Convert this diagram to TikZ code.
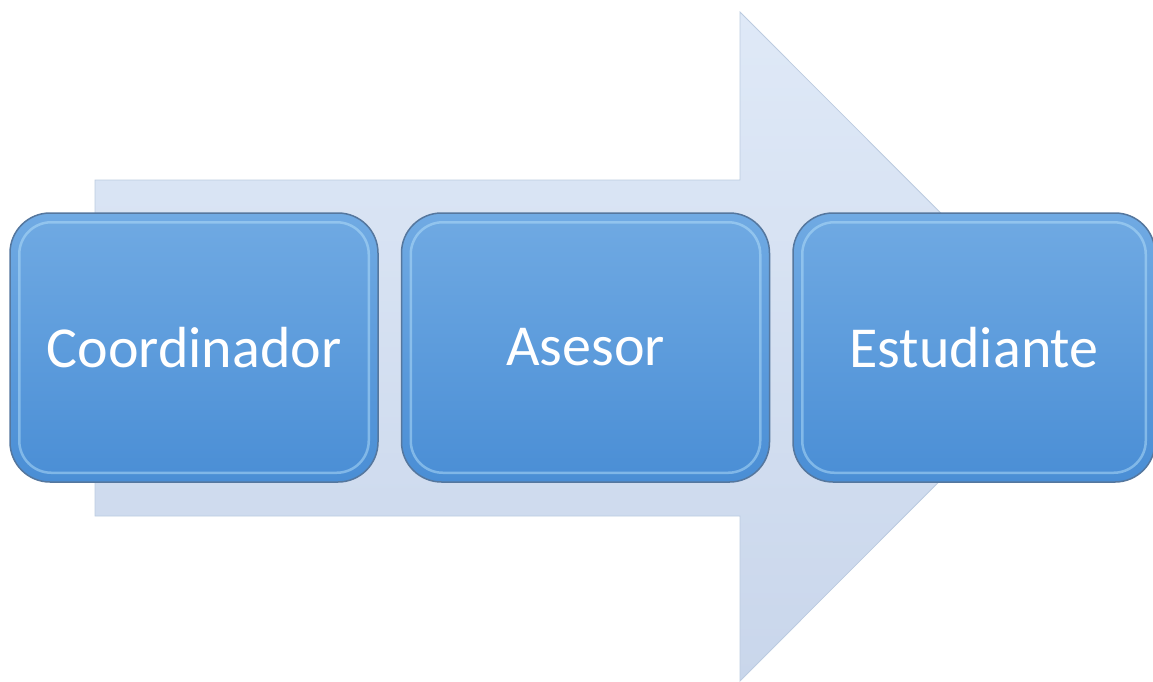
\documentclass[tikz,border=0pt]{standalone}
\usepackage{fontspec}
\setmainfont{Carlito}
\usetikzlibrary{positioning}
\definecolor{boxtop}{HTML}{70AAE3}
\definecolor{boxbot}{HTML}{4A8ED5}
\definecolor{boxedge}{HTML}{55779E}
\definecolor{bevel}{HTML}{B5E0FA}
\definecolor{arrtop}{HTML}{DFE9F7}
\definecolor{arrbot}{HTML}{C9D6EB}
\definecolor{arredge}{HTML}{BCCBE0}
\tikzset{
  stage/.style={rectangle, rounded corners=40pt, draw=boxedge, line width=1.5pt,
    top color=boxtop, bottom color=boxbot, text=white, font=\fontsize{58}{66}\selectfont,
    minimum width=368pt, minimum height=269pt, inner sep=0pt},
  shine/.style={draw=bevel, line width=2.5pt, rounded corners=32pt, opacity=0.5},
  bigarrow/.style={top color=arrtop, bottom color=arrbot, draw=arredge, line width=0.8pt}
}

\begin{document}
\begin{tikzpicture}[x=1pt, y=-1pt]
    \useasboundingbox (0,0) rectangle (1153,681);
    % background arrow
    \path[bigarrow] (95,180) -- (740,180) -- (740,12) -- (1074,346.5)
      -- (740,681) -- (740,516) -- (95,516) -- cycle;
    \node[stage] (coord) at (194,347.5) {Coordinador};
    \node[stage, right=22pt of coord] (asesor) {Asesor};
    \node[stage, right=22pt of asesor, minimum width=362pt] (estud) {Estudiante};
    \foreach \n in {coord, asesor, estud}
      \draw[shine] ([shift={(10,10)}]\n.north west) rectangle ([shift={(-10,-10)}]\n.south east);
  \end{tikzpicture}
\end{document}
